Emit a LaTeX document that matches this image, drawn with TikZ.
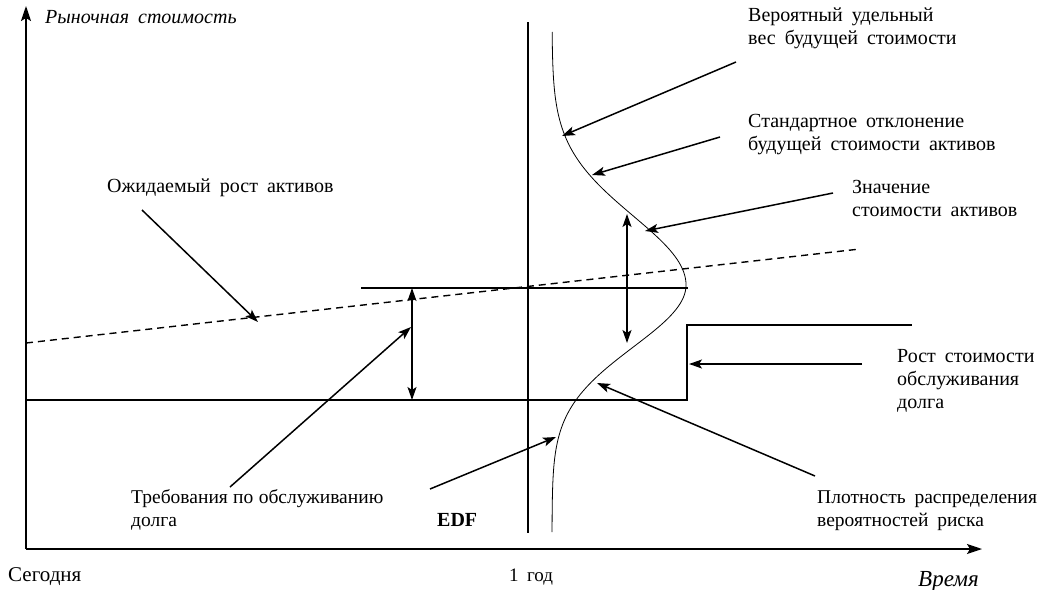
\documentclass[tikz,border=0pt]{standalone}
\usepackage{fontspec}
\setmainfont{Liberation Serif}[WordSpace=1.8]
\newfontfamily\narrowserif{Liberation Serif}[WordSpace=1.1]
\usetikzlibrary{arrows.meta}
\begin{document}
\begin{tikzpicture}[x=1pt,y=-1pt,
  lbl/.style={inner sep=0pt, align=left, anchor=west, font=\fontsize{20}{23}\selectfont},
  tip/.style={-{Stealth[length=13pt,width=9pt,inset=3pt]}},
  ann/.style={line width=1.5pt, tip},
  dbl/.style={line width=1.5pt, {Stealth[length=13pt,width=9pt,inset=3pt]}-{Stealth[length=13pt,width=9pt,inset=3pt]}},
  axis/.style={line width=1.6pt, -{Stealth[length=15pt,width=10pt,inset=3pt]}},
  level/.style={line width=1.4pt},
  curve/.style={line width=0.8pt}]
\useasboundingbox (0,0) rectangle (1048,589);

% axes
\coordinate (O) at (26,549);
\coordinate (Ytop) at (26,6);
\coordinate (Xend) at (982,549);
\draw[axis] (O) -- (Ytop);
\draw[axis] (O) -- (Xend);
\node[lbl, font=\fontsize{20}{23}\selectfont\itshape] (ylab) at (45,17) {Рыночная стоимость};
\node[lbl, font=\fontsize{21}{23}\selectfont] (today) at (8,577) {Сегодня};
\node[lbl, font=\fontsize{19}{22}\selectfont, anchor=center] (year) at (531,577) {1 год};
\node[lbl, font=\fontsize{23}{25}\selectfont\itshape] (time) at (918,581) {Время};

% one-year line
\coordinate (V1) at (528,22);
\coordinate (V2) at (528,533);
\draw[line width=1.6pt] (V1) -- (V2);

% distribution curve
\draw[curve] plot[domain=32:285, samples=80, smooth] ({552+134*exp(-0.5*((\x-285)/69)^2)}, \x)
  -- plot[domain=285:532, samples=80, smooth] ({552+134*exp(-0.5*((\x-285)/62)^2)}, \x);

% levels
\coordinate (A1) at (361,288);
\coordinate (A2) at (688,288);
\draw[level] (A1) -- (A2);
\coordinate (D0) at (26,400);
\coordinate (D1) at (687,400);
\coordinate (D2) at (687,325);
\coordinate (D3) at (912,325);
\draw[level] (D0) -- (D1) -- (D2) -- (D3);

% expected growth (dashed)
\coordinate (G0) at (26,343);
\coordinate (G1) at (860,249);
\draw[line width=1.4pt, dash pattern=on 7pt off 5pt] (G0) -- (G1);

% double arrows
\coordinate (B1) at (412,288);
\coordinate (B2) at (412,400);
\draw[dbl] (B1) -- (B2);
\coordinate (C1) at (627,214);
\coordinate (C2) at (627,343);
\draw[dbl] (C1) -- (C2);

% labels
\node[lbl] (tw) at (748,28.5) {Вероятный удельный\\вес будущей стоимости};
\node[lbl] (ts) at (748,134.5) {Стандартное отклонение\\будущей стоимости активов};
\node[lbl] (tv) at (852,198.5) {Значение\\стоимости активов};
\node[lbl] (te) at (107,188) {Ожидаемый рост активов};
\node[lbl, font=\narrowserif\fontsize{19.5}{23}\selectfont] (tr) at (131,510) {Требования по обслуживанию\\долга};
\node[lbl, font=\fontsize{20}{23}\selectfont\bfseries] (tedf) at (437,520) {EDF};
\node[lbl, font=\fontsize{19.5}{23}\selectfont] (tp) at (817,510.5) {Плотность распределения\\вероятностей риска};
\node[lbl] (tg) at (897,380.5) {Рост стоимости\\обслуживания\\долга};

% annotation arrows
\coordinate (a0) at (142,210); \coordinate (a1) at (258,322);
\draw[ann] (a0) -- (a1);
\coordinate (b0) at (230,487); \coordinate (b1) at (411,327);
\draw[ann] (b0) -- (b1);
\coordinate (c0) at (430,489); \coordinate (c1) at (556,437);
\draw[ann] (c0) -- (c1);
\coordinate (d0) at (815,476); \coordinate (d1) at (597,383);
\draw[ann] (d0) -- (d1);
\coordinate (e0) at (862,364); \coordinate (e1) at (689,364);
\draw[ann] (e0) -- (e1);
\coordinate (f0) at (833,193); \coordinate (f1) at (645,231);
\draw[ann] (f0) -- (f1);
\coordinate (g0) at (720,137); \coordinate (g1) at (592,175);
\draw[ann] (g0) -- (g1);
\coordinate (h0) at (736,62); \coordinate (h1) at (562,136);
\draw[ann] (h0) -- (h1);
\end{tikzpicture}
\end{document}
